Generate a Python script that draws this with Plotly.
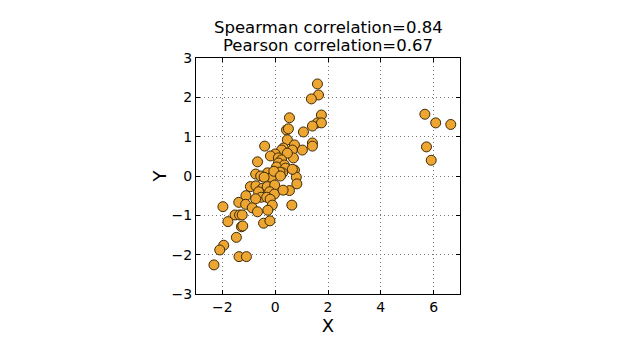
import plotly.graph_objects as go

x_vals = [1.6, 1.64, 1.37, 1.75, 1.6, 1.75, 1.41, 0.54, 0.43, 0.5, 1.07, 1.41, 1.41, 0.46,
          -0.4, 0.73, 0.31, 0.24, 0.65, 1.03, 0.0, -0.18, 0.12, 0.69, 0.46, -0.67, 0.24,
          0.12, 0.35, 0.05, 0.39, 0.73,
          -0.74, -0.29, 0.28, 0.8, -0.55, -0.14, -0.42, 0.18, 0.65, 0.82, -0.05, 0.2,
          -0.94, -0.73, -0.48, -0.3, -0.02, -0.63, -0.21, -0.03, 0.54, 0.3, -1.11, -0.53,
          -0.32, -0.19, -1.38, -1.12, -0.74, -0.87, -0.67, -0.11, -0.28, 0.63, -1.98,
          -1.52, -1.35, -1.25, -1.79, -1.28, -1.23, -0.44, -0.2, -1.47, -1.95, -2.1,
          -1.37, -1.09, -2.32,
          5.67, 6.08, 6.65, 5.73, 5.91]
y_vals = [2.34, 2.06, 1.96, 1.55, 1.35, 1.35, 1.27, 1.48, 1.17, 1.2, 1.12, 0.84, 0.76, 0.92,
          0.76, 0.79, 0.71, 0.66, 0.66, 0.66, 0.56, 0.51, 0.46, 0.46, 0.58, 0.36, 0.41,
          0.33, 0.28, 0.23, 0.2, 0.15,
          0.05, 0.08, 0.08, -0.03, 0.0, -0.03, -0.03, 0.1, 0.17, -0.2, 0.12, 0.0,
          -0.27, -0.25, -0.31, -0.27, -0.23, -0.4, -0.4, -0.46, -0.37, -0.36, -0.5, -0.54,
          -0.54, -0.59, -0.67, -0.72, -0.58, -0.81, -0.91, -0.74, -0.87, -0.74, -0.78,
          -0.99, -0.99, -0.99, -1.16, -1.29, -1.27, -1.2, -1.14, -1.56, -1.76, -1.88,
          -2.05, -2.05, -2.26,
          1.57, 1.35, 1.31, 0.74, 0.4]

title_lines = ["Spearman correlation=0.84", "Pearson correlation=0.67"]
x_ticks = [-2, 0, 2, 4, 6]
y_ticks = [-3, -2, -1, 0, 1, 2, 3]

fig = go.Figure()
fig.add_trace(go.Scatter(
    x=x_vals, y=y_vals, mode="markers",
    marker=dict(size=10, color="#eca631", line=dict(color="#3d2a08", width=1)),
    showlegend=False))

axis_common = dict(
    showline=True, linecolor="black", linewidth=1, mirror="allticks",
    ticks="inside", ticklen=4, tickcolor="black",
    showgrid=True, gridcolor="#777777", griddash="1px,3px", gridwidth=1,
    zeroline=False, tickfont=dict(size=14, color="black"))

fig.update_xaxes(range=[-3, 7], tickvals=x_ticks,
                 title=dict(text="X", font=dict(size=18), standoff=0), **axis_common)
fig.update_yaxes(range=[-3, 3], tickvals=y_ticks,
                 title=dict(text="Y", font=dict(size=18), standoff=0), **axis_common)

for i, line in enumerate(title_lines):
    fig.add_annotation(text=line, xref="paper", yref="paper", x=0.5, y=1,
                       xanchor="center", yanchor="bottom", showarrow=False,
                       borderpad=0, yshift=20 - 18 * i,
                       font=dict(size=16.5, color="black"))

fig.update_layout(
    width=640, height=360,
    margin=dict(l=188, r=188, t=50, b=74),
    paper_bgcolor="white", plot_bgcolor="white",
    font=dict(family="DejaVu Sans", color="black"),
)

fig.write_html("out.html")
